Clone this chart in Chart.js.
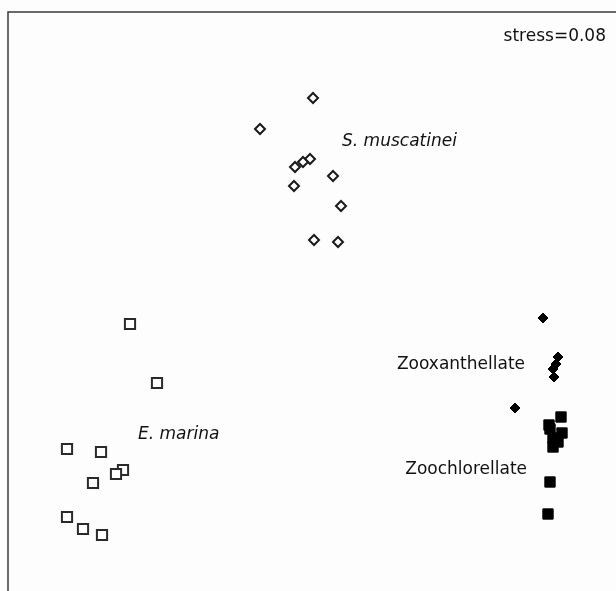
<!DOCTYPE html>
<html>
<head>
<meta charset="utf-8">
<script src="https://cdn.jsdelivr.net/npm/chart.js@4/dist/chart.umd.min.js"></script>
<style>
html,body{margin:0;padding:0;background:#fdfdfd;}
canvas{display:block;}
</style>
</head>
<body>
<canvas id="c" width="616" height="591"></canvas>
<script>
// NMDS coordinates (arbitrary units)
const sMuscatineiX = [313, 260, 310, 303, 295, 333, 294, 341, 314, 338];
const sMuscatineiY = [493, 462, 432, 429, 424, 415, 405, 385, 351, 349];
const eMarinaX = [130, 157, 67, 101, 123, 116, 93, 67, 83, 102];
const eMarinaY = [267, 208, 142, 139, 121, 117, 108, 74, 62, 56];
const zooxX = [543, 558, 556, 553, 554, 515];
const zooxY = [273, 234, 227, 222, 214, 183];
const zoochX = [561, 549, 550, 562, 553, 558, 553, 550, 548];
const zoochY = [174, 166, 162, 158, 153, 149, 144, 109, 77];
const groupLabels = ["S. muscatinei", "E. marina", "Zooxanthellate", "Zoochlorellate"];
const stressLabel = "stress=0.08";

function pts(xs, ys){ return xs.map((x,i)=>({x:x, y:ys[i]})); }

const labelPlugin = {
  id: 'labels',
  afterDatasetsDraw(chart){
    const ctx = chart.ctx, a = chart.chartArea;
    const xs = chart.scales.x, ys = chart.scales.y;
    ctx.save();
    // frame (left and top)
    ctx.strokeStyle = '#3a3a3a';
    ctx.lineWidth = 1.5;
    ctx.beginPath();
    ctx.moveTo(a.left, a.bottom + 5);
    ctx.lineTo(a.left, a.top);
    ctx.lineTo(a.right + 5, a.top);
    ctx.stroke();
    ctx.fillStyle = '#111';
    ctx.textBaseline = 'middle';
    ctx.font = '17px "DejaVu Sans"';
    ctx.textAlign = 'right';
    ctx.fillText(stressLabel, a.right - 10, a.top + 25);
    const place = [
      {t: groupLabels[0], x: 342, y: 449, align:'left', italic:true},
      {t: groupLabels[1], x: 138, y: 156, align:'left', italic:true},
      {t: groupLabels[2], x: 525, y: 226, align:'right', italic:false},
      {t: groupLabels[3], x: 527, y: 121, align:'right', italic:false}
    ];
    place.forEach(p=>{
      ctx.font = (p.italic ? 'italic ' : '') + '17px "DejaVu Sans"';
      ctx.textAlign = p.align;
      ctx.fillText(p.t, xs.getPixelForValue(p.x), ys.getPixelForValue(p.y));
    });
    ctx.restore();
  }
};

new Chart(document.getElementById('c'), {
  type: 'scatter',
  data: {
    datasets: [
      {label: groupLabels[0], data: pts(sMuscatineiX, sMuscatineiY), pointStyle:'rectRot', pointRadius:5, pointBorderWidth:2, borderColor:'#1a1a1a', backgroundColor:'#fff'},
      {label: groupLabels[1], data: pts(eMarinaX, eMarinaY), pointStyle:'rect', pointRadius:7.2, pointBorderWidth:2, borderColor:'#2a2a2a', backgroundColor:'#fff'},
      {label: groupLabels[2], data: pts(zooxX, zooxY), pointStyle:'rectRot', pointRadius:5, pointBorderWidth:1, borderColor:'#000', backgroundColor:'#000'},
      {label: groupLabels[3], data: pts(zoochX, zoochY), pointStyle:'rect', pointRadius:7.3, pointBorderWidth:1, borderColor:'#000', backgroundColor:'#000'}
    ]
  },
  options: {
    responsive: false,
    animation: false,
    layout: {autoPadding: false, padding: {left: 8, top: 12, right: 0, bottom: 0}},
    plugins: {legend: {display:false}, tooltip: {enabled:false}},
    scales: {
      x: {display:false, min: 8, max: 616},
      y: {display:false, min: 0, max: 579}
    }
  },
  plugins: [labelPlugin]
});
</script>
</body>
</html>
